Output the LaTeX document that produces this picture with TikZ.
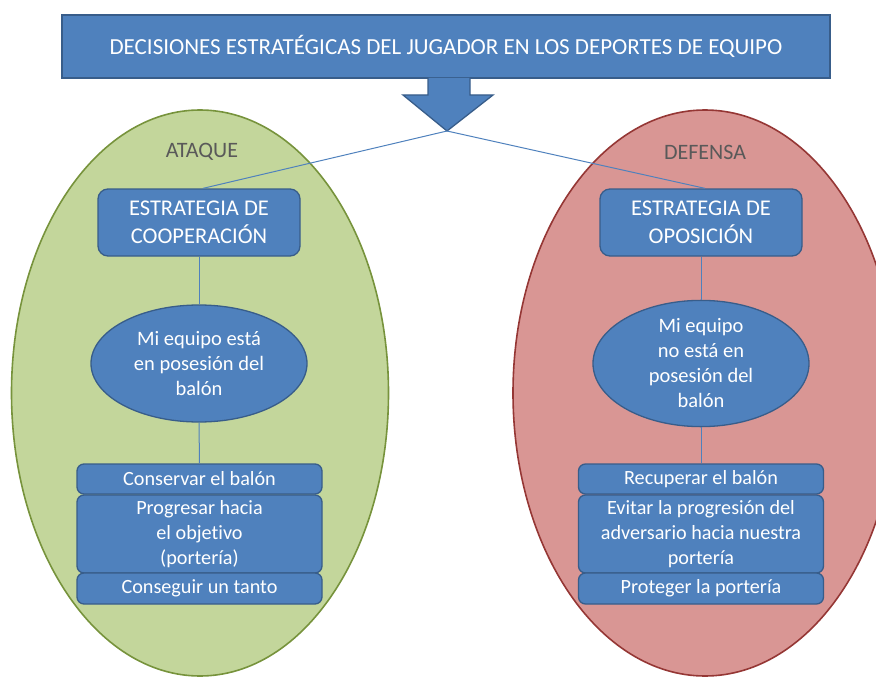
\documentclass[tikz,border=0pt]{standalone}
\usepackage{fontspec}
\setmainfont{Carlito}[Ligatures=NoCommon]
\usetikzlibrary{shapes.geometric}
\definecolor{blueF}{HTML}{4F81BD}
\definecolor{blueD}{HTML}{385D8A}
\definecolor{greenF}{HTML}{C3D69B}
\definecolor{greenD}{HTML}{77933C}
\definecolor{redF}{HTML}{D99694}
\definecolor{redD}{HTML}{953735}
\definecolor{grayT}{HTML}{595959}
\tikzset{
  bigell/.style={ellipse, inner sep=0pt, line width=1.6pt},
  sidelabel/.style={text=grayT, font=\fontsize{22}{25}\selectfont},
  bluebox/.style={fill=blueF, draw=blueD, line width=1.3pt, text=white, align=center, inner sep=0pt},
  stratbox/.style={bluebox, rounded corners=10pt, minimum width=202pt, minimum height=67pt, font=\fontsize{22.5}{28}\selectfont},
  posell/.style={bluebox, ellipse, minimum width=216pt, minimum height=117pt, font=\fontsize{20.5}{25}\selectfont},
  listbox/.style={bluebox, rounded corners=7pt, minimum width=245pt, font=\fontsize{20.2}{25}\selectfont},
  conn/.style={draw=blueF, line width=1pt},
}
\begin{document}
\begin{tikzpicture}[x=1pt,y=-1pt]
\useasboundingbox (0,0) rectangle (876,677);
\clip (0,0) rectangle (876,677);
% big ellipses
\node[bigell, fill=greenF, draw=greenD, minimum width=377pt, minimum height=566pt] (ataqueE) at (200,393) {};
\node[bigell, fill=redF, draw=redD, minimum width=384pt, minimum height=566pt] (defensaE) at (705,393) {};
\node[sidelabel] (ataque) at (202,152) {ATAQUE};
\node[sidelabel] (defensa) at (705,152) {DEFENSA};
% title banner
\node[bluebox, minimum width=768pt, minimum height=63pt, font=\fontsize{23}{27}\selectfont] (title) at (446,46.5) {DECISIONES ESTRATÉGICAS DEL JUGADOR EN LOS DEPORTES DE EQUIPO};
% arrow
\draw[fill=blueF, draw=blueD, line width=1.3pt] (428,78) -- (428,95) -- (403,95) -- (447,131) -- (493,95) -- (470,95) -- (470,78);
\coordinate (tip) at (447,131);
% strategy boxes
\node[stratbox] (coop) at (199,222.5) {ESTRATEGIA DE\\COOPERACIÓN};
\node[stratbox] (opos) at (701,222.5) {ESTRATEGIA DE\\OPOSICIÓN};
% possession ellipses
\node[posell] (pos) at (199,363.5) {Mi equipo está\\en posesión del\\balón};
\node[posell] (nopos) at (701,363.5) {Mi equipo\\no está en\\posesión del\\balón};
% list boxes left
\node[listbox, minimum height=30pt] (cons) at (199.5,479) {Conservar el balón};
\node[listbox, minimum height=78pt] (prog) at (199.5,534) {Progresar hacia\\el objetivo\\(portería)};
\node[listbox, minimum height=31pt] (tanto) at (199.5,588.5) {Conseguir un tanto};
% list boxes right
\node[listbox, minimum height=30pt] (recu) at (701,479) {Recuperar el balón};
\node[listbox, minimum height=78pt] (evit) at (701,534) {Evitar la progresión del\\adversario hacia nuestra\\portería};
\node[listbox, minimum height=31pt] (prot) at (701,588.5) {Proteger la portería};
% connectors
\draw[conn] (tip) -- ([xshift=4pt]coop.north);
\draw[conn] (tip) -- ([xshift=4pt]opos.north);
\draw[conn] (coop.south) -- (pos.north);
\draw[conn] (pos.south) -- (cons.north);
\draw[conn] (opos.south) -- (nopos.north);
\draw[conn] (nopos.south) -- (recu.north);
\end{tikzpicture}
\end{document}
